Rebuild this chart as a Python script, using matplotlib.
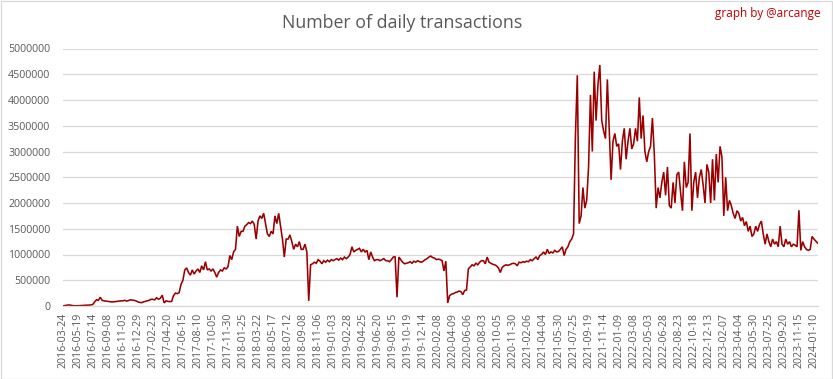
import matplotlib

matplotlib.use("Agg")
import matplotlib.pyplot as plt
from matplotlib.patches import Rectangle

# category labels shown on the x axis (every 8th weekly sample)
tick_labels = [
    "2016-03-24", "2016-05-19", "2016-07-14", "2016-09-08", "2016-11-03", "2016-12-29",
    "2017-02-23", "2017-04-20", "2017-06-15", "2017-08-10", "2017-10-05", "2017-11-30",
    "2018-01-25", "2018-03-22", "2018-05-17", "2018-07-12", "2018-09-08", "2018-11-06",
    "2019-01-03", "2019-02-28", "2019-04-25", "2019-06-20", "2019-08-15", "2019-10-19",
    "2019-12-14", "2020-02-08", "2020-04-09", "2020-06-06", "2020-08-03", "2020-10-05",
    "2020-11-30", "2021-02-06", "2021-04-04", "2021-05-30", "2021-07-25", "2021-09-19",
    "2021-11-14", "2022-01-09", "2022-03-08", "2022-05-03", "2022-06-28", "2022-08-23",
    "2022-10-18", "2022-12-13", "2023-02-07", "2023-04-04", "2023-05-30", "2023-07-25",
    "2023-09-20", "2023-11-15", "2024-01-10",
]
SAMPLES_PER_TICK = 8

# daily transactions (thousands), one row per tick interval
tx_thousands = [
    2, 8, 15, 20, 18, 10, 5, 3,
    5, 8, 10, 12, 15, 15, 18, 20,
    30, 80, 120, 110, 170, 110, 100, 95,
    90, 85, 80, 80, 85, 90, 95, 100,
    100, 110, 95, 105, 120, 115, 110, 100,
    80, 70, 65, 80, 90, 100, 110, 130,
    130, 120, 160, 130, 150, 210, 60, 100,
    90, 85, 90, 200, 250, 240, 260, 420,
    500, 700, 740, 650, 600, 700, 620, 680,
    720, 650, 780, 700, 860, 700, 720, 680,
    720, 650, 560, 650, 700, 680, 740, 720,
    760, 980, 900, 1050, 1100, 1550, 1350, 1450,
    1450, 1550, 1580, 1620, 1600, 1650, 1580, 1300,
    1650, 1750, 1700, 1800, 1600, 1400, 1350, 1450,
    1400, 1750, 1600, 1800, 1550, 1300, 950, 1300,
    1300, 1380, 1250, 1100, 1200, 1150, 1250, 1100,
    1100, 1200, 1050, 100, 800, 820, 850, 830,
    900, 870, 820, 880, 850, 890, 860, 900,
    880, 900, 920, 890, 930, 900, 950, 920,
    950, 1000, 1150, 1050, 1080, 1100, 1120, 1050,
    1100, 1050, 1080, 900, 1050, 950, 880, 900,
    900, 880, 900, 920, 880, 880, 860, 900,
    950, 960, 170, 950, 900, 850, 820, 830,
    840, 860, 830, 870, 850, 880, 860, 850,
    870, 900, 920, 950, 970, 940, 930, 900,
    910, 900, 880, 680, 870, 60, 200, 230,
    240, 260, 270, 290, 280, 220, 300, 310,
    720, 760, 800, 780, 830, 800, 850, 880,
    880, 820, 950, 850, 830, 810, 800, 780,
    740, 650, 750, 780, 800, 790, 800, 820,
    830, 820, 780, 850, 840, 860, 850, 870,
    860, 900, 880, 920, 950, 900, 980, 1000,
    1050, 1000, 1100, 1020, 1050, 1030, 1080, 1050,
    1060, 1100, 1150, 980, 1100, 1150, 1250, 1300,
    1400, 3300, 4480, 1600, 1750, 2300, 1900, 2050,
    2700, 4100, 3000, 4550, 3600, 4300, 4680, 3600,
    3400, 3250, 4400, 3400, 2450, 3200, 3350, 3100,
    3150, 2650, 3200, 3450, 2850, 3200, 3450, 3050,
    3150, 3450, 3200, 4050, 3250, 3700, 3000, 2800,
    3000, 3100, 3650, 2950, 1900, 2300, 2100, 2400,
    2600, 2150, 2700, 1950, 1900, 2400, 2000, 2550,
    2600, 2200, 1850, 2800, 2300, 2400, 3350, 1850,
    2400, 2600, 2100, 2500, 2650, 2350, 2000, 2750,
    2600, 2000, 2850, 2050, 2950, 2400, 3100, 2900,
    1750, 2500, 1850, 2050, 1950, 1800, 1700, 1850,
    1800, 1650, 1720, 1560, 1640, 1450, 1550, 1350,
    1400, 1550, 1450, 1580, 1650, 1400, 1200, 1400,
    1250, 1150, 1300, 1200, 1250, 1150, 1550, 1200,
    1150, 1300, 1200, 1250, 1150, 1200, 1180, 1150,
    1860, 1080, 1250, 1150, 1100, 1080, 1100, 1350,
    1300, 1260, 1220,
]

y_ticks = list(range(0, 5000001, 500000))

LINE = "#9B0000"
GRID = "#D9D9D9"
TEXT = "#595959"
FONT = "Open Sans"

W, H = 833, 379
fig = plt.figure(figsize=(W / 100, H / 100), dpi=100)
ax = fig.add_axes([62.7 / W, 1 - 306 / H, (817.7 - 62.7) / W, (306 - 48.5) / H])

xs = list(range(len(tx_thousands)))
ax.plot(xs, [v * 1000 for v in tx_thousands], color=LINE, lw=1.15, solid_joinstyle="miter")

ax.set_xlim(0, len(tx_thousands) - 1)
ax.set_ylim(0, 5000000)
ax.set_yticks(y_ticks)
ax.set_yticklabels([str(v) for v in y_ticks], fontsize=7.7, color=TEXT, family=FONT)
ax.set_xticks([i * SAMPLES_PER_TICK for i in range(len(tick_labels))])
ax.set_xticklabels(tick_labels, rotation=90, fontsize=7.7, color=TEXT, family=FONT)
ax.tick_params(axis="both", length=0)
ax.tick_params(axis="y", pad=9)
ax.tick_params(axis="x", pad=5)
ax.grid(axis="y", color=GRID, lw=0.9)
ax.set_axisbelow(True)
for side in ("left", "right", "top"):
    ax.spines[side].set_visible(False)
ax.spines["bottom"].set_color(GRID)
ax.spines["bottom"].set_linewidth(0.9)

fig.text(0.483, 1 - 23 / H, "Number of daily transactions", ha="center", va="center",
         fontsize=12.8, color=TEXT, family=FONT)
fig.text(821 / W, 1 - 14 / H, "graph by @arcange", ha="right", va="center",
         fontsize=8.5, color="#C00000", family=FONT)

fig.patches.append(Rectangle((0.5 / W, 0.5 / H), 1 - 1.5 / W, 1 - 1.5 / H, transform=fig.transFigure,
                             fill=False, edgecolor=GRID, lw=0.9))

fig.savefig("out.png", dpi=100)
